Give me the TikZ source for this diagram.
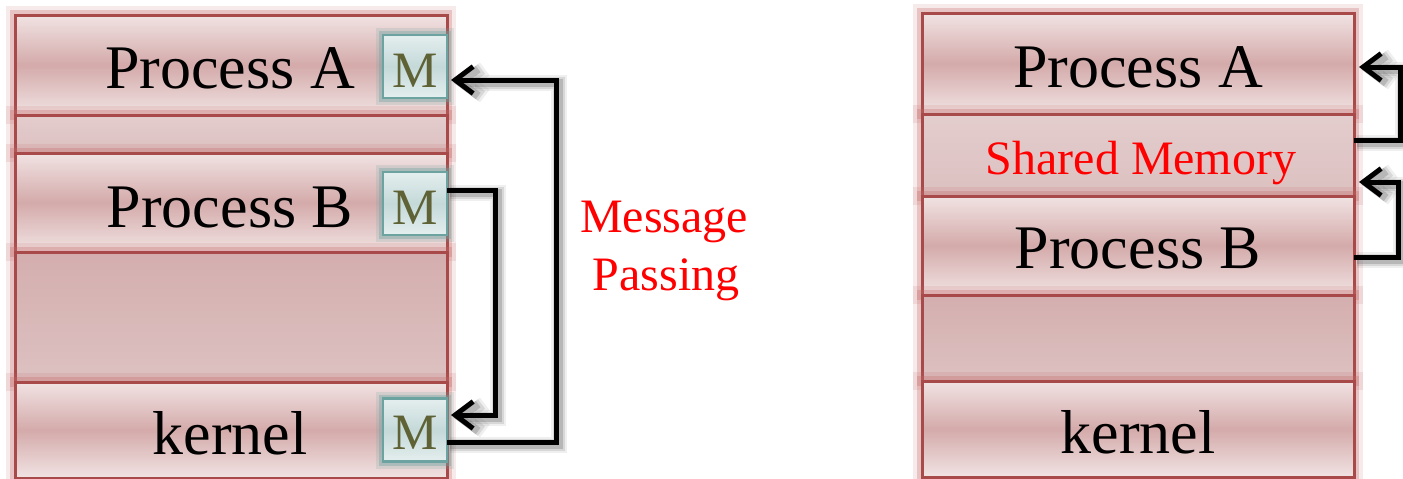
\documentclass[tikz,border=0pt]{standalone}
\usepackage{fontspec}
\setmainfont{Liberation Serif}
\usetikzlibrary{calc,arrows.meta}
\definecolor{bandlight}{RGB}{241,227,227}
\definecolor{banddark}{RGB}{212,170,170}
\definecolor{bandborder}{RGB}{168,74,74}
\definecolor{bandglow}{RGB}{196,104,104}
\definecolor{gaplight}{RGB}{228,205,205}
\definecolor{gapdark}{RGB}{220,192,192}
\definecolor{emptytop}{RGB}{212,174,174}
\definecolor{emptybot}{RGB}{221,193,193}
\definecolor{mlight}{RGB}{228,238,238}
\definecolor{mdark}{RGB}{197,217,217}
\definecolor{mborder}{RGB}{108,162,160}
\definecolor{mglow}{RGB}{110,165,163}
\definecolor{mtext}{RGB}{94,98,53}
\definecolor{msgred}{RGB}{255,0,0}
\definecolor{shadowgray}{RGB}{80,80,80}
\begin{document}
\begin{tikzpicture}[x=1pt,y=-1pt,
  glow/.style={preaction={draw=bandglow,line width=18pt,opacity=.14},
               preaction={draw=bandglow,line width=10pt,opacity=.3}},
  bandbase/.style={glow,draw=bandborder,line width=3pt,minimum width=432pt,
    inner sep=0pt,outer sep=0pt},
  band/.style={bandbase,shading=axis,top color=bandlight,
    bottom color=bandlight,middle color=banddark},
  gapband/.style={bandbase,top color=gaplight,bottom color=gapdark},
  emptyband/.style={bandbase,top color=emptytop,bottom color=emptybot},
  mbox/.style={preaction={draw=mglow,line width=14pt,opacity=.18},
    preaction={draw=mglow,line width=8pt,opacity=.38},
    draw=mborder,line width=2.5pt,minimum width=64pt,minimum height=63pt,
    inner sep=0pt,outer sep=0pt,shading=axis,top color=mlight,
    bottom color=mlight,middle color=mdark},
  mlabel/.style={anchor=base,inner sep=0pt,text=mtext,
    font=\fontsize{51}{55}\selectfont},
  blabel/.style={anchor=base,inner sep=0pt,font=\fontsize{62}{70}\selectfont},
  redlabel/.style={anchor=base,inner sep=0pt,text=msgred,
    font=\fontsize{48}{56}\selectfont},
  conn/.style={draw=black,line width=5pt,
    -{Straight Barb[length=18pt,width=27pt,line width=5pt]}},
  connshadow/.style={draw=shadowgray,line width=#1,
    -{Straight Barb[length=18pt,width=27pt,line width=#1]},
    transform canvas={shift={(2.5pt,-2.5pt)}}}
]
\useasboundingbox (0,0) rectangle (1403,479);

% ---------- left stack ----------
\node[band,minimum height=100pt] (lA) at (231,65) {};
\node[gapband,minimum height=38pt] (lgap) at (231,134) {};
\node[band,minimum height=99pt] (lB) at (231,202.5) {};
\node[emptyband,minimum height=130pt] (lE) at (231,317) {};
\node[band,minimum height=96pt] (lK) at (231,430) {};

\node[mbox] (mA) at (415,66.5) {};
\node[mbox] (mB) at (415,203.5) {};
\node[mbox] (mK) at (415,430) {};

\node[blabel] (tlA) at ($(lA.center)+(-1,23)$) {Process A};
\node[blabel] (tlB) at ($(lB.center)+(-1,24.5)$) {Process B};
\node[blabel] (tlK) at ($(lK.center)+(-1,24)$) {kernel};
\node[mlabel] (tmA) at ($(mA.center)+(0,20.5)$) {M};
\node[mlabel] (tmB) at ($(mB.center)+(0,20.5)$) {M};
\node[mlabel] (tmK) at ($(mK.center)+(0,19.5)$) {M};

\node[redlabel] (msg1) at (664,232) {Message};
\node[redlabel] (msg2) at (666,290) {Passing};

% ---------- right stack ----------
\node[band,minimum height=101pt] (rA) at (1138,63.5) {};
\node[gapband,minimum height=82pt] (rS) at (1138,155) {};
\node[band,minimum height=99pt] (rB) at (1138,245.5) {};
\node[emptyband,minimum height=86pt] (rE) at (1138,338) {};
\node[band,minimum height=96pt] (rK) at (1138,429) {};

\node[blabel] (trA) at ($(rA.center)+(0,23.5)$) {Process A};
\node[redlabel] (trS) at ($(rS.center)+(3,19)$) {Shared Memory};
\node[blabel] (trB) at ($(rB.center)+(0,22.5)$) {Process B};
\node[blabel] (trK) at ($(rK.center)+(0,24)$) {kernel};

% ---------- connectors: soft shadows ----------
\foreach \w/\o in {16/.09,12/.15,8/.24} {
  \draw[connshadow=\w pt,opacity=\o] ($(mK.east)+(0,12)$) -- ++(109,0) |- ($(mA.east)+(4,13.5)$);
  \draw[connshadow=\w pt,opacity=\o] ($(mB.east)+(0,-13.5)$) -- ++(48,0) |- ($(mK.east)+(4,-15)$);
  \draw[connshadow=\w pt,opacity=\o] ($(rS.east)+(0,-15)$) -- ++(46,0) |- ($(rA.east)+(5,3.5)$);
  \draw[connshadow=\w pt,opacity=\o] ($(rB.east)+(0,11.5)$) -- ++(44,0) |- ($(rS.east)+(5,27)$);
}

% ---------- connectors ----------
\draw[conn] ($(mK.east)+(0,12)$) -- ++(109,0) |- ($(mA.east)+(4,13.5)$);
\draw[conn] ($(mB.east)+(0,-13.5)$) -- ++(48,0) |- ($(mK.east)+(4,-15)$);
\draw[conn] ($(rS.east)+(0,-15)$) -- ++(46,0) |- ($(rA.east)+(5,3.5)$);
\draw[conn] ($(rB.east)+(0,11.5)$) -- ++(44,0) |- ($(rS.east)+(5,27)$);
\end{tikzpicture}
\end{document}
